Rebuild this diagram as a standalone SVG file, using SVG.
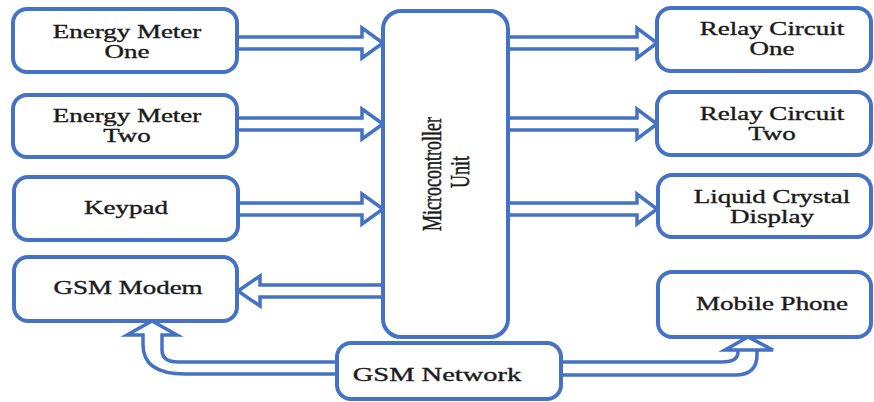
<svg xmlns="http://www.w3.org/2000/svg" width="874" height="402" viewBox="0 0 874 402">
<style>
.box{fill:#fff;stroke:#4472C4;stroke-width:4}
.ar{fill:none;stroke:#4472C4;stroke-width:3.5;stroke-linejoin:miter}
text{font-family:"Liberation Serif","Times New Roman",serif;font-size:18px;fill:#1a1a1a;stroke:#1a1a1a;stroke-width:0.35;text-anchor:middle}
</style>
<rect width="874" height="402" fill="#fff"/>
<g id="connectors">
<path class="ar" d="M238,37 H362 V28 L383,43 L362,58 V49 H238"/>
<path class="ar" d="M238,118 H362 V109 L383,124 L362,139 V130 H238"/>
<path class="ar" d="M238,203 H362 V194 L383,209 L362,224 V215 H238"/>
<path class="ar" d="M383,285 H260 V276 L238,291 L260,306 V297 H383"/>
<path class="ar" d="M508,37 H637 V28 L657,43 L637,58 V49 H508"/>
<path class="ar" d="M508,118 H637 V109 L657,124 L637,139 V130 H508"/>
<path class="ar" d="M508,203 H637 V194 L657,209 L637,224 V215 H508"/>
<path class="ar" d="M337,362 H178 Q162,362 162,350 V335 H177 L152,321 L127,335 H143 V345 Q143,374 185,374 H337"/>
<path class="ar" d="M561,362 H722 Q738,362 738,352 V350 H773 L748,337 L725,350 H757 V355 Q757,375 735,375 H561"/>
</g>
<g id="energy-meter-one"><rect class="box" x="13" y="9" width="224" height="63" rx="14"/>
<text transform="translate(127,0) scale(1.5,1)" x="0" y="38">Energy Meter</text>
<text transform="translate(127,0) scale(1.5,1)" x="0" y="58">One</text></g>
<g id="energy-meter-two"><rect class="box" x="13" y="95" width="224" height="62" rx="14"/>
<text transform="translate(127,0) scale(1.5,1)" x="0" y="122">Energy Meter</text>
<text transform="translate(127,0) scale(1.5,1)" x="0" y="142">Two</text></g>
<g id="keypad"><rect class="box" x="14" y="177" width="224" height="63" rx="14"/>
<text transform="translate(126,0) scale(1.5,1)" x="0" y="214">Keypad</text></g>
<g id="gsm-modem"><rect class="box" x="14" y="257" width="223" height="64" rx="14"/>
<text transform="translate(128,0) scale(1.5,1)" x="0" y="294">GSM Modem</text></g>
<g id="microcontroller"><rect class="box" x="383" y="11" width="125" height="326" rx="18"/>
<text transform="translate(441,174) scale(1.5,1) rotate(-90)" x="0" y="0">Microcontroller</text>
<text transform="translate(469,172) scale(1.5,1) rotate(-90)" x="0" y="0">Unit</text></g>
<g id="relay-one"><rect class="box" x="657" y="8" width="214" height="63" rx="14"/>
<text transform="translate(772,0) scale(1.5,1)" x="0" y="35">Relay Circuit</text>
<text transform="translate(772,0) scale(1.5,1)" x="0" y="55">One</text></g>
<g id="relay-two"><rect class="box" x="657" y="92" width="214" height="63" rx="14"/>
<text transform="translate(772,0) scale(1.5,1)" x="0" y="120">Relay Circuit</text>
<text transform="translate(772,0) scale(1.5,1)" x="0" y="140">Two</text></g>
<g id="lcd"><rect class="box" x="658" y="175" width="213" height="62" rx="14"/>
<text transform="translate(772,0) scale(1.5,1)" x="0" y="203">Liquid Crystal</text>
<text transform="translate(772,0) scale(1.5,1)" x="0" y="223">Display</text></g>
<g id="mobile-phone"><rect class="box" x="658" y="272" width="213" height="65" rx="14"/>
<text transform="translate(772,0) scale(1.5,1)" x="0" y="310">Mobile Phone</text></g>
<g id="gsm-network"><rect class="box" x="337" y="343" width="224" height="56" rx="14"/>
<text transform="translate(437,0) scale(1.5,1)" x="0" y="381" style="font-size:19px">GSM Network</text></g>
</svg>
